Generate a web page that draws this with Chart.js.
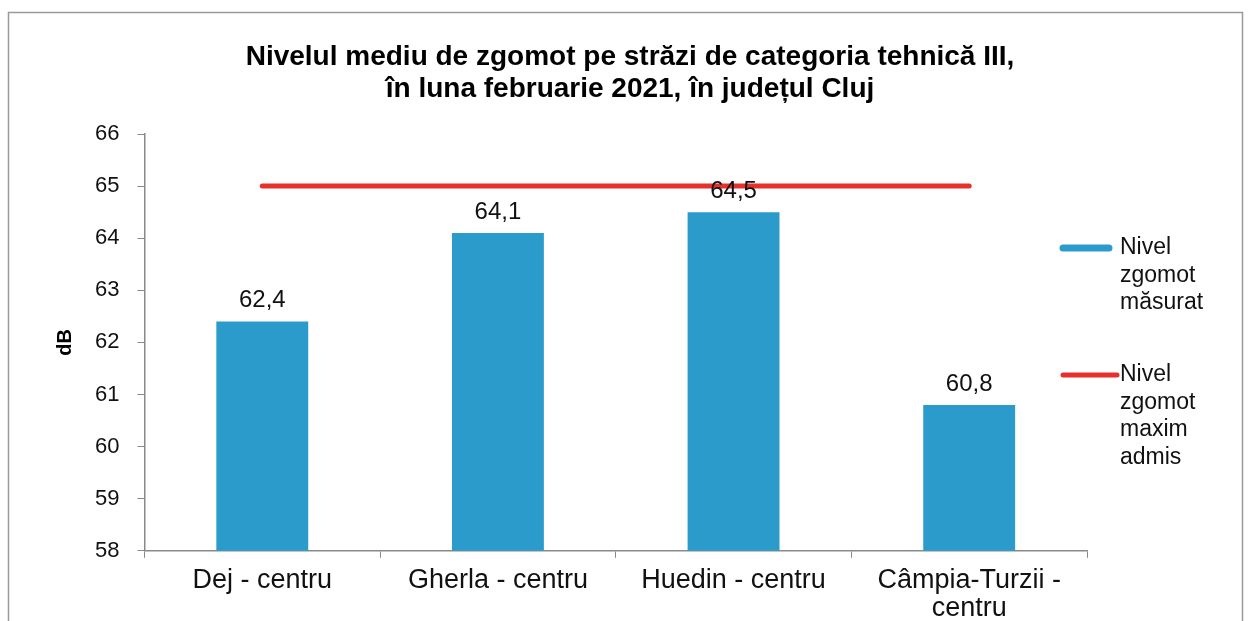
<!DOCTYPE html>
<html>
<head>
<meta charset="utf-8">
<script src="https://cdn.jsdelivr.net/npm/chart.js@4"></script>
<style>
  html, body { margin: 0; padding: 0; background: #fff; overflow: hidden; }
  #canvas-zgomot { display: block; }
</style>
</head>
<body>
<canvas id="canvas-zgomot" width="1251" height="640"></canvas>
<script>
const locatii = [
  'Dej - centru',
  'Gherla - centru',
  'Huedin - centru',
  ['Câmpia-Turzii -', 'centru']
];
const nivelMasurat = [62.4, 64.1, 64.5, 60.8];
const nivelMaxim = [65, 65, 65, 65];
const legendaMasurat = ['Nivel', 'zgomot', 'măsurat'];
const legendaMaxim = ['Nivel', 'zgomot', 'maxim', 'admis'];
const titlu = [
  'Nivelul mediu de zgomot pe străzi de categoria tehnică III,',
  'în luna februarie 2021, în județul Cluj'
];

const albastru = '#2b9bcb';
const rosu = '#e5302b';
const FONT = '"Liberation Sans", Arial, sans-serif';

// chenar gri + titlul centrat pe toata latimea
const chenar = {
  id: 'chenar',
  beforeDraw(chart) {
    const ctx = chart.ctx;
    ctx.save();
    ctx.fillStyle = '#fff';
    ctx.fillRect(0, 0, chart.width, chart.height);
    ctx.strokeStyle = '#9a9a9a';
    ctx.lineWidth = 1.5;
    ctx.strokeRect(8.5, 12.5, 1234, 660);
    ctx.font = 'bold 28px ' + FONT;
    ctx.fillStyle = '#000';
    ctx.textAlign = 'center';
    ctx.textBaseline = 'middle';
    titlu.forEach((t, i) => ctx.fillText(t, 630, 57 + i * 32));
    ctx.restore();
  }
};

// valorile deasupra coloanelor, cu virgula zecimala
const etichete = {
  id: 'etichete',
  afterDatasetsDraw(chart) {
    const ctx = chart.ctx;
    const meta = chart.getDatasetMeta(0);
    ctx.save();
    ctx.font = '24px ' + FONT;
    ctx.fillStyle = '#111';
    ctx.textAlign = 'center';
    ctx.textBaseline = 'bottom';
    meta.data.forEach((bar, i) => {
      const v = chart.data.datasets[0].data[i];
      ctx.fillText(v.toFixed(1).replace('.', ','), bar.x, bar.y - 9);
    });
    ctx.restore();
  }
};

// legenda din dreapta, cu textul pe mai multe randuri
const legenda = {
  id: 'legenda',
  afterDraw(chart) {
    const ctx = chart.ctx;
    const x0 = chart.chartArea.right - 24;
    const items = [
      { y: 248, lines: legendaMasurat, color: albastru, w: 7, len: 46 },
      { y: 375, lines: legendaMaxim, color: rosu, w: 5, len: 54 }
    ];
    ctx.save();
    ctx.font = '23px ' + FONT;
    ctx.textBaseline = 'middle';
    items.forEach(it => {
      ctx.strokeStyle = it.color;
      ctx.lineWidth = it.w;
      ctx.lineCap = 'round';
      ctx.beginPath();
      ctx.moveTo(x0, it.y);
      ctx.lineTo(x0 + it.len, it.y);
      ctx.stroke();
      ctx.fillStyle = '#111';
      it.lines.forEach((t, k) => ctx.fillText(t, x0 + 57, it.y + k * 27.5));
    });
    ctx.restore();
  }
};

new Chart(document.getElementById('canvas-zgomot'), {
  data: {
    labels: locatii,
    datasets: [
      {
        type: 'bar',
        label: legendaMasurat.join(' '),
        data: nivelMasurat,
        backgroundColor: albastru,
        barPercentage: 0.39,
        categoryPercentage: 1,
        order: 2
      },
      {
        type: 'line',
        label: legendaMaxim.join(' '),
        data: nivelMaxim,
        borderColor: rosu,
        borderWidth: 5,
        borderCapStyle: 'round',
        pointRadius: 0,
        order: 1
      }
    ]
  },
  options: {
    responsive: false,
    animation: false,
    devicePixelRatio: 1,
    layout: { padding: { left: 43, right: 164, top: 134, bottom: 8 } },
    plugins: {
      legend: { display: false },
      tooltip: { enabled: false },
      title: { display: false }
    },
    scales: {
      x: {
        border: { color: '#8a8a8a', width: 1.5 },
        grid: { drawOnChartArea: false, tickLength: 7, color: '#8a8a8a', offset: true },
        ticks: { color: '#111', font: { family: FONT, size: 27, lineHeight: 1.04 }, padding: 9, maxRotation: 0, autoSkip: false }
      },
      y: {
        min: 58,
        max: 66,
        border: { color: '#8a8a8a', width: 1.5 },
        grid: { drawOnChartArea: false, tickLength: 7, color: '#8a8a8a' },
        ticks: { stepSize: 1, color: '#111', font: { family: FONT, size: 22 }, padding: 18 },
        title: { display: true, text: 'dB', color: '#000', font: { family: FONT, size: 20, weight: 'bold' }, padding: { top: 10, bottom: 0 } }
      }
    }
  },
  plugins: [chenar, etichete, legenda]
});
</script>
</body>
</html>
